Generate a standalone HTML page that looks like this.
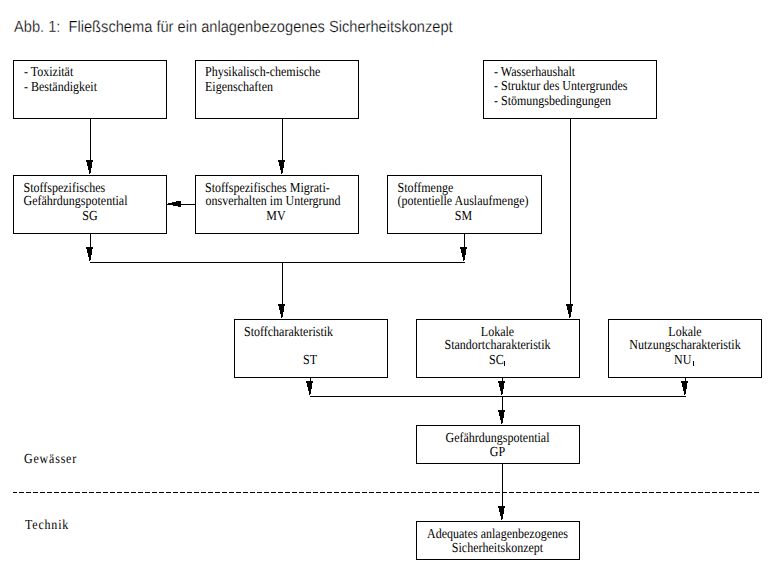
<!DOCTYPE html>
<html><head><meta charset="utf-8"><style>
html,body{margin:0;padding:0;background:#fff;width:769px;height:571px;overflow:hidden}
svg{display:block}
.s{font-family:"Liberation Serif",serif;font-size:12px;fill:#000;text-rendering:geometricPrecision}
.title{font-family:"Liberation Sans",sans-serif;font-size:14.65px;fill:#000;stroke:#fff;stroke-width:0.25px;text-rendering:geometricPrecision}
.lbl{font-family:"Liberation Serif",serif;font-size:12px;fill:#000;letter-spacing:0.8px;text-rendering:geometricPrecision}
.sub{font-size:8px}
</style></head><body>
<svg width="769" height="571" viewBox="0 0 769 571">
<g fill="#000" shape-rendering="crispEdges">
<rect x="13" y="60" width="154" height="1"/>
<rect x="13" y="118" width="154" height="1"/>
<rect x="13" y="60" width="1" height="59"/>
<rect x="166" y="60" width="1" height="59"/>
<rect x="195" y="60" width="164" height="1"/>
<rect x="195" y="118" width="164" height="1"/>
<rect x="195" y="60" width="1" height="59"/>
<rect x="358" y="60" width="1" height="59"/>
<rect x="483" y="60" width="174" height="1"/>
<rect x="483" y="118" width="174" height="1"/>
<rect x="483" y="60" width="1" height="59"/>
<rect x="656" y="60" width="1" height="59"/>
<rect x="13" y="175" width="154" height="1"/>
<rect x="13" y="233" width="154" height="1"/>
<rect x="13" y="175" width="1" height="59"/>
<rect x="166" y="175" width="1" height="59"/>
<rect x="195" y="175" width="164" height="1"/>
<rect x="195" y="233" width="164" height="1"/>
<rect x="195" y="175" width="1" height="59"/>
<rect x="358" y="175" width="1" height="59"/>
<rect x="387" y="175" width="155" height="1"/>
<rect x="387" y="233" width="155" height="1"/>
<rect x="387" y="175" width="1" height="59"/>
<rect x="541" y="175" width="1" height="59"/>
<rect x="234" y="319" width="154" height="1"/>
<rect x="234" y="377" width="154" height="1"/>
<rect x="234" y="319" width="1" height="59"/>
<rect x="387" y="319" width="1" height="59"/>
<rect x="416" y="319" width="164" height="1"/>
<rect x="416" y="377" width="164" height="1"/>
<rect x="416" y="319" width="1" height="59"/>
<rect x="579" y="319" width="1" height="59"/>
<rect x="608" y="319" width="154" height="1"/>
<rect x="608" y="377" width="154" height="1"/>
<rect x="608" y="319" width="1" height="59"/>
<rect x="761" y="319" width="1" height="59"/>
<rect x="416" y="425" width="164" height="1"/>
<rect x="416" y="463" width="164" height="1"/>
<rect x="416" y="425" width="1" height="39"/>
<rect x="579" y="425" width="1" height="39"/>
<rect x="416" y="521" width="164" height="1"/>
<rect x="416" y="559" width="164" height="1"/>
<rect x="416" y="521" width="1" height="39"/>
<rect x="579" y="521" width="1" height="39"/>
<rect x="90" y="119" width="1" height="41"/>
<rect x="86" y="160" width="7" height="1"/>
<rect x="86" y="161" width="7" height="1"/>
<rect x="87" y="162" width="5" height="1"/>
<rect x="87" y="163" width="5" height="1"/>
<rect x="87" y="164" width="5" height="1"/>
<rect x="87" y="165" width="5" height="1"/>
<rect x="88" y="166" width="4" height="1"/>
<rect x="88" y="167" width="4" height="1"/>
<rect x="88" y="168" width="3" height="1"/>
<rect x="88" y="169" width="3" height="1"/>
<rect x="89" y="170" width="2" height="1"/>
<rect x="89" y="171" width="2" height="1"/>
<rect x="89" y="172" width="2" height="1"/>
<rect x="89" y="173" width="1" height="1"/>
<rect x="282" y="119" width="1" height="41"/>
<rect x="278" y="160" width="7" height="1"/>
<rect x="278" y="161" width="7" height="1"/>
<rect x="279" y="162" width="5" height="1"/>
<rect x="279" y="163" width="5" height="1"/>
<rect x="279" y="164" width="5" height="1"/>
<rect x="279" y="165" width="5" height="1"/>
<rect x="280" y="166" width="4" height="1"/>
<rect x="280" y="167" width="4" height="1"/>
<rect x="280" y="168" width="3" height="1"/>
<rect x="280" y="169" width="3" height="1"/>
<rect x="281" y="170" width="2" height="1"/>
<rect x="281" y="171" width="2" height="1"/>
<rect x="281" y="172" width="2" height="1"/>
<rect x="281" y="173" width="1" height="1"/>
<rect x="181" y="204" width="14" height="1"/>
<rect x="180" y="201" width="1" height="6"/>
<rect x="179" y="201" width="1" height="6"/>
<rect x="178" y="201" width="1" height="6"/>
<rect x="177" y="201" width="1" height="5"/>
<rect x="176" y="201" width="1" height="5"/>
<rect x="175" y="202" width="1" height="4"/>
<rect x="174" y="202" width="1" height="4"/>
<rect x="173" y="202" width="1" height="4"/>
<rect x="172" y="202" width="1" height="3"/>
<rect x="171" y="203" width="1" height="2"/>
<rect x="170" y="203" width="1" height="2"/>
<rect x="169" y="203" width="1" height="2"/>
<rect x="168" y="203" width="1" height="2"/>
<rect x="167" y="204" width="1" height="1"/>
<rect x="90" y="234" width="1" height="13"/>
<rect x="86" y="247" width="7" height="1"/>
<rect x="86" y="248" width="7" height="1"/>
<rect x="87" y="249" width="5" height="1"/>
<rect x="87" y="250" width="5" height="1"/>
<rect x="87" y="251" width="5" height="1"/>
<rect x="87" y="252" width="5" height="1"/>
<rect x="88" y="253" width="4" height="1"/>
<rect x="88" y="254" width="4" height="1"/>
<rect x="88" y="255" width="3" height="1"/>
<rect x="88" y="256" width="3" height="1"/>
<rect x="89" y="257" width="2" height="1"/>
<rect x="89" y="258" width="2" height="1"/>
<rect x="89" y="259" width="2" height="1"/>
<rect x="89" y="260" width="1" height="1"/>
<rect x="464" y="234" width="1" height="13"/>
<rect x="460" y="247" width="7" height="1"/>
<rect x="460" y="248" width="7" height="1"/>
<rect x="461" y="249" width="5" height="1"/>
<rect x="461" y="250" width="5" height="1"/>
<rect x="461" y="251" width="5" height="1"/>
<rect x="461" y="252" width="5" height="1"/>
<rect x="462" y="253" width="4" height="1"/>
<rect x="462" y="254" width="4" height="1"/>
<rect x="462" y="255" width="3" height="1"/>
<rect x="462" y="256" width="3" height="1"/>
<rect x="463" y="257" width="2" height="1"/>
<rect x="463" y="258" width="2" height="1"/>
<rect x="463" y="259" width="2" height="1"/>
<rect x="463" y="260" width="1" height="1"/>
<rect x="90" y="262" width="375" height="1"/>
<rect x="282" y="262" width="1" height="42"/>
<rect x="278" y="304" width="7" height="1"/>
<rect x="278" y="305" width="7" height="1"/>
<rect x="279" y="306" width="5" height="1"/>
<rect x="279" y="307" width="5" height="1"/>
<rect x="279" y="308" width="5" height="1"/>
<rect x="279" y="309" width="5" height="1"/>
<rect x="280" y="310" width="4" height="1"/>
<rect x="280" y="311" width="4" height="1"/>
<rect x="280" y="312" width="3" height="1"/>
<rect x="280" y="313" width="3" height="1"/>
<rect x="281" y="314" width="2" height="1"/>
<rect x="281" y="315" width="2" height="1"/>
<rect x="281" y="316" width="2" height="1"/>
<rect x="281" y="317" width="1" height="1"/>
<rect x="570" y="119" width="1" height="185"/>
<rect x="566" y="304" width="7" height="1"/>
<rect x="566" y="305" width="7" height="1"/>
<rect x="567" y="306" width="5" height="1"/>
<rect x="567" y="307" width="5" height="1"/>
<rect x="567" y="308" width="5" height="1"/>
<rect x="567" y="309" width="5" height="1"/>
<rect x="568" y="310" width="4" height="1"/>
<rect x="568" y="311" width="4" height="1"/>
<rect x="568" y="312" width="3" height="1"/>
<rect x="568" y="313" width="3" height="1"/>
<rect x="569" y="314" width="2" height="1"/>
<rect x="569" y="315" width="2" height="1"/>
<rect x="569" y="316" width="2" height="1"/>
<rect x="569" y="317" width="1" height="1"/>
<rect x="310" y="378" width="1" height="3"/>
<rect x="306" y="381" width="7" height="1"/>
<rect x="306" y="382" width="7" height="1"/>
<rect x="307" y="383" width="5" height="1"/>
<rect x="307" y="384" width="5" height="1"/>
<rect x="307" y="385" width="5" height="1"/>
<rect x="307" y="386" width="5" height="1"/>
<rect x="308" y="387" width="4" height="1"/>
<rect x="308" y="388" width="4" height="1"/>
<rect x="308" y="389" width="3" height="1"/>
<rect x="308" y="390" width="3" height="1"/>
<rect x="309" y="391" width="2" height="1"/>
<rect x="309" y="392" width="2" height="1"/>
<rect x="309" y="393" width="2" height="1"/>
<rect x="309" y="394" width="1" height="1"/>
<rect x="502" y="378" width="1" height="3"/>
<rect x="498" y="381" width="7" height="1"/>
<rect x="498" y="382" width="7" height="1"/>
<rect x="499" y="383" width="5" height="1"/>
<rect x="499" y="384" width="5" height="1"/>
<rect x="499" y="385" width="5" height="1"/>
<rect x="499" y="386" width="5" height="1"/>
<rect x="500" y="387" width="4" height="1"/>
<rect x="500" y="388" width="4" height="1"/>
<rect x="500" y="389" width="3" height="1"/>
<rect x="500" y="390" width="3" height="1"/>
<rect x="501" y="391" width="2" height="1"/>
<rect x="501" y="392" width="2" height="1"/>
<rect x="501" y="393" width="2" height="1"/>
<rect x="501" y="394" width="1" height="1"/>
<rect x="685" y="378" width="1" height="3"/>
<rect x="681" y="381" width="7" height="1"/>
<rect x="681" y="382" width="7" height="1"/>
<rect x="682" y="383" width="5" height="1"/>
<rect x="682" y="384" width="5" height="1"/>
<rect x="682" y="385" width="5" height="1"/>
<rect x="682" y="386" width="5" height="1"/>
<rect x="683" y="387" width="4" height="1"/>
<rect x="683" y="388" width="4" height="1"/>
<rect x="683" y="389" width="3" height="1"/>
<rect x="683" y="390" width="3" height="1"/>
<rect x="684" y="391" width="2" height="1"/>
<rect x="684" y="392" width="2" height="1"/>
<rect x="684" y="393" width="2" height="1"/>
<rect x="684" y="394" width="1" height="1"/>
<rect x="310" y="396" width="376" height="1"/>
<rect x="502" y="396" width="1" height="14"/>
<rect x="498" y="410" width="7" height="1"/>
<rect x="498" y="411" width="7" height="1"/>
<rect x="499" y="412" width="5" height="1"/>
<rect x="499" y="413" width="5" height="1"/>
<rect x="499" y="414" width="5" height="1"/>
<rect x="499" y="415" width="5" height="1"/>
<rect x="500" y="416" width="4" height="1"/>
<rect x="500" y="417" width="4" height="1"/>
<rect x="500" y="418" width="3" height="1"/>
<rect x="500" y="419" width="3" height="1"/>
<rect x="501" y="420" width="2" height="1"/>
<rect x="501" y="421" width="2" height="1"/>
<rect x="501" y="422" width="2" height="1"/>
<rect x="501" y="423" width="1" height="1"/>
<rect x="502" y="464" width="1" height="42"/>
<rect x="498" y="506" width="7" height="1"/>
<rect x="498" y="507" width="7" height="1"/>
<rect x="499" y="508" width="5" height="1"/>
<rect x="499" y="509" width="5" height="1"/>
<rect x="499" y="510" width="5" height="1"/>
<rect x="499" y="511" width="5" height="1"/>
<rect x="500" y="512" width="4" height="1"/>
<rect x="500" y="513" width="4" height="1"/>
<rect x="500" y="514" width="3" height="1"/>
<rect x="500" y="515" width="3" height="1"/>
<rect x="501" y="516" width="2" height="1"/>
<rect x="501" y="517" width="2" height="1"/>
<rect x="501" y="518" width="2" height="1"/>
<rect x="501" y="519" width="1" height="1"/>
<rect x="13" y="492" width="4" height="1"/>
<rect x="19" y="492" width="5" height="1"/>
<rect x="26" y="492" width="5" height="1"/>
<rect x="33" y="492" width="5" height="1"/>
<rect x="40" y="492" width="5" height="1"/>
<rect x="47" y="492" width="5" height="1"/>
<rect x="54" y="492" width="5" height="1"/>
<rect x="61" y="492" width="5" height="1"/>
<rect x="68" y="492" width="5" height="1"/>
<rect x="75" y="492" width="5" height="1"/>
<rect x="82" y="492" width="5" height="1"/>
<rect x="89" y="492" width="5" height="1"/>
<rect x="96" y="492" width="5" height="1"/>
<rect x="103" y="492" width="5" height="1"/>
<rect x="110" y="492" width="5" height="1"/>
<rect x="117" y="492" width="5" height="1"/>
<rect x="124" y="492" width="5" height="1"/>
<rect x="131" y="492" width="5" height="1"/>
<rect x="138" y="492" width="5" height="1"/>
<rect x="145" y="492" width="5" height="1"/>
<rect x="152" y="492" width="5" height="1"/>
<rect x="159" y="492" width="5" height="1"/>
<rect x="166" y="492" width="5" height="1"/>
<rect x="173" y="492" width="5" height="1"/>
<rect x="180" y="492" width="5" height="1"/>
<rect x="187" y="492" width="5" height="1"/>
<rect x="194" y="492" width="5" height="1"/>
<rect x="201" y="492" width="5" height="1"/>
<rect x="208" y="492" width="5" height="1"/>
<rect x="215" y="492" width="5" height="1"/>
<rect x="222" y="492" width="5" height="1"/>
<rect x="229" y="492" width="5" height="1"/>
<rect x="236" y="492" width="5" height="1"/>
<rect x="243" y="492" width="5" height="1"/>
<rect x="250" y="492" width="5" height="1"/>
<rect x="257" y="492" width="5" height="1"/>
<rect x="264" y="492" width="5" height="1"/>
<rect x="271" y="492" width="5" height="1"/>
<rect x="278" y="492" width="5" height="1"/>
<rect x="285" y="492" width="5" height="1"/>
<rect x="292" y="492" width="5" height="1"/>
<rect x="299" y="492" width="5" height="1"/>
<rect x="306" y="492" width="5" height="1"/>
<rect x="313" y="492" width="5" height="1"/>
<rect x="320" y="492" width="5" height="1"/>
<rect x="327" y="492" width="5" height="1"/>
<rect x="334" y="492" width="5" height="1"/>
<rect x="341" y="492" width="5" height="1"/>
<rect x="348" y="492" width="5" height="1"/>
<rect x="355" y="492" width="5" height="1"/>
<rect x="362" y="492" width="5" height="1"/>
<rect x="369" y="492" width="5" height="1"/>
<rect x="376" y="492" width="5" height="1"/>
<rect x="383" y="492" width="5" height="1"/>
<rect x="390" y="492" width="5" height="1"/>
<rect x="397" y="492" width="5" height="1"/>
<rect x="404" y="492" width="5" height="1"/>
<rect x="411" y="492" width="5" height="1"/>
<rect x="418" y="492" width="5" height="1"/>
<rect x="425" y="492" width="5" height="1"/>
<rect x="432" y="492" width="5" height="1"/>
<rect x="439" y="492" width="5" height="1"/>
<rect x="446" y="492" width="5" height="1"/>
<rect x="453" y="492" width="5" height="1"/>
<rect x="460" y="492" width="5" height="1"/>
<rect x="467" y="492" width="5" height="1"/>
<rect x="474" y="492" width="5" height="1"/>
<rect x="481" y="492" width="5" height="1"/>
<rect x="488" y="492" width="5" height="1"/>
<rect x="495" y="492" width="5" height="1"/>
<rect x="502" y="492" width="5" height="1"/>
<rect x="509" y="492" width="5" height="1"/>
<rect x="516" y="492" width="5" height="1"/>
<rect x="523" y="492" width="5" height="1"/>
<rect x="530" y="492" width="5" height="1"/>
<rect x="537" y="492" width="5" height="1"/>
<rect x="544" y="492" width="5" height="1"/>
<rect x="551" y="492" width="5" height="1"/>
<rect x="558" y="492" width="5" height="1"/>
<rect x="565" y="492" width="5" height="1"/>
<rect x="572" y="492" width="5" height="1"/>
<rect x="579" y="492" width="5" height="1"/>
<rect x="586" y="492" width="5" height="1"/>
<rect x="593" y="492" width="5" height="1"/>
<rect x="600" y="492" width="5" height="1"/>
<rect x="607" y="492" width="5" height="1"/>
<rect x="614" y="492" width="5" height="1"/>
<rect x="621" y="492" width="5" height="1"/>
<rect x="628" y="492" width="5" height="1"/>
<rect x="635" y="492" width="5" height="1"/>
<rect x="642" y="492" width="5" height="1"/>
<rect x="649" y="492" width="5" height="1"/>
<rect x="656" y="492" width="5" height="1"/>
<rect x="663" y="492" width="5" height="1"/>
<rect x="670" y="492" width="5" height="1"/>
<rect x="677" y="492" width="5" height="1"/>
<rect x="684" y="492" width="5" height="1"/>
<rect x="691" y="492" width="5" height="1"/>
<rect x="698" y="492" width="5" height="1"/>
<rect x="705" y="492" width="5" height="1"/>
<rect x="712" y="492" width="5" height="1"/>
<rect x="719" y="492" width="5" height="1"/>
<rect x="726" y="492" width="5" height="1"/>
<rect x="733" y="492" width="5" height="1"/>
<rect x="740" y="492" width="5" height="1"/>
<rect x="747" y="492" width="5" height="1"/>
<rect x="754" y="492" width="5" height="1"/>
<rect x="504" y="361" width="1" height="5"/>
<rect x="693" y="361" width="1" height="5"/>
</g>
<text transform="matrix(1 0 0 1.1 0 -3.200)" x="14" y="32" text-anchor="start" class="title">Abb. 1:&#160; Fließschema für ein anlagenbezogenes Sicherheitskonzept</text>
<text transform="matrix(1 0 0 1.15 0 -11.400)" x="24" y="76" text-anchor="start" class="s">- Toxizität</text>
<text transform="matrix(1 0 0 1.15 0 -13.650)" x="24" y="91" text-anchor="start" class="s">- Beständigkeit</text>
<text transform="matrix(1 0 0 1.15 0 -11.400)" x="205" y="76" text-anchor="start" class="s">Physikalisch-chemische</text>
<text transform="matrix(1 0 0 1.15 0 -13.650)" x="205" y="91" text-anchor="start" class="s">Eigenschaften</text>
<text transform="matrix(1 0 0 1.15 0 -11.400)" x="494" y="76" text-anchor="start" class="s">- Wasserhaushalt</text>
<text transform="matrix(1 0 0 1.15 0 -13.500)" x="494" y="90" text-anchor="start" class="s">- Struktur des Untergrundes</text>
<text transform="matrix(1 0 0 1.15 0 -15.750)" x="494" y="105" text-anchor="start" class="s">- Stömungsbedingungen</text>
<text transform="matrix(1 0 0 1.15 0 -28.800)" x="23.5" y="192" text-anchor="start" class="s">Stoffspezifisches</text>
<text transform="matrix(1 0 0 1.15 0 -30.750)" x="23.5" y="205" text-anchor="start" class="s">Gefährdungspotential</text>
<text transform="matrix(1 0 0 1.15 0 -33.000)" x="90" y="220" text-anchor="middle" class="s">SG</text>
<text transform="matrix(1 0 0 1.15 0 -28.800)" x="205" y="192" text-anchor="start" class="s">Stoffspezifisches Migrati-</text>
<text transform="matrix(1 0 0 1.15 0 -30.750)" x="205.5" y="205" text-anchor="start" class="s">onsverhalten im Untergrund</text>
<text transform="matrix(1 0 0 1.15 0 -33.000)" x="276" y="220" text-anchor="middle" class="s">MV</text>
<text transform="matrix(1 0 0 1.15 0 -28.800)" x="397.5" y="192" text-anchor="start" class="s">Stoffmenge</text>
<text transform="matrix(1 0 0 1.15 0 -30.750)" x="397.5" y="205" text-anchor="start" class="s">(potentielle Auslaufmenge)</text>
<text transform="matrix(1 0 0 1.15 0 -33.000)" x="463.5" y="220" text-anchor="middle" class="s">SM</text>
<text transform="matrix(1 0 0 1.15 0 -50.400)" x="244" y="336" text-anchor="start" class="s">Stoffcharakteristik</text>
<text transform="matrix(1 0 0 1.15 0 -54.600)" x="310" y="364" text-anchor="middle" class="s">ST</text>
<text transform="matrix(1 0 0 1.15 0 -50.400)" x="497.5" y="336" text-anchor="middle" class="s">Lokale</text>
<text transform="matrix(1 0 0 1.15 0 -52.350)" x="497.5" y="349" text-anchor="middle" class="s">Standortcharakteristik</text>
<text transform="matrix(1 0 0 1.15 0 -54.600)" x="489" y="364" text-anchor="start" class="s">SC</text>
<text transform="matrix(1 0 0 1.15 0 -50.400)" x="685" y="336" text-anchor="middle" class="s">Lokale</text>
<text transform="matrix(1 0 0 1.15 0 -52.350)" x="685" y="349" text-anchor="middle" class="s">Nutzungscharakteristik</text>
<text transform="matrix(1 0 0 1.15 0 -54.600)" x="674" y="364" text-anchor="start" class="s">NU</text>
<text transform="matrix(1 0 0 1.15 0 -66.300)" x="497.5" y="442" text-anchor="middle" class="s">Gefährdungspotential</text>
<text transform="matrix(1 0 0 1.15 0 -68.400)" x="497.5" y="456" text-anchor="middle" class="s">GP</text>
<text transform="matrix(1 0 0 1.15 0 -80.700)" x="497.5" y="538" text-anchor="middle" class="s">Adequates anlagenbezogenes</text>
<text transform="matrix(1 0 0 1.15 0 -82.800)" x="497.5" y="552" text-anchor="middle" class="s">Sicherheitskonzept</text>
<text transform="matrix(1 0 0 1.15 0 -69.450)" x="24" y="463" text-anchor="start" class="lbl">Gewässer</text>
<text transform="matrix(1 0 0 1.15 0 -79.350)" x="25" y="529" text-anchor="start" class="lbl">Technik</text>
</svg>
</body></html>
